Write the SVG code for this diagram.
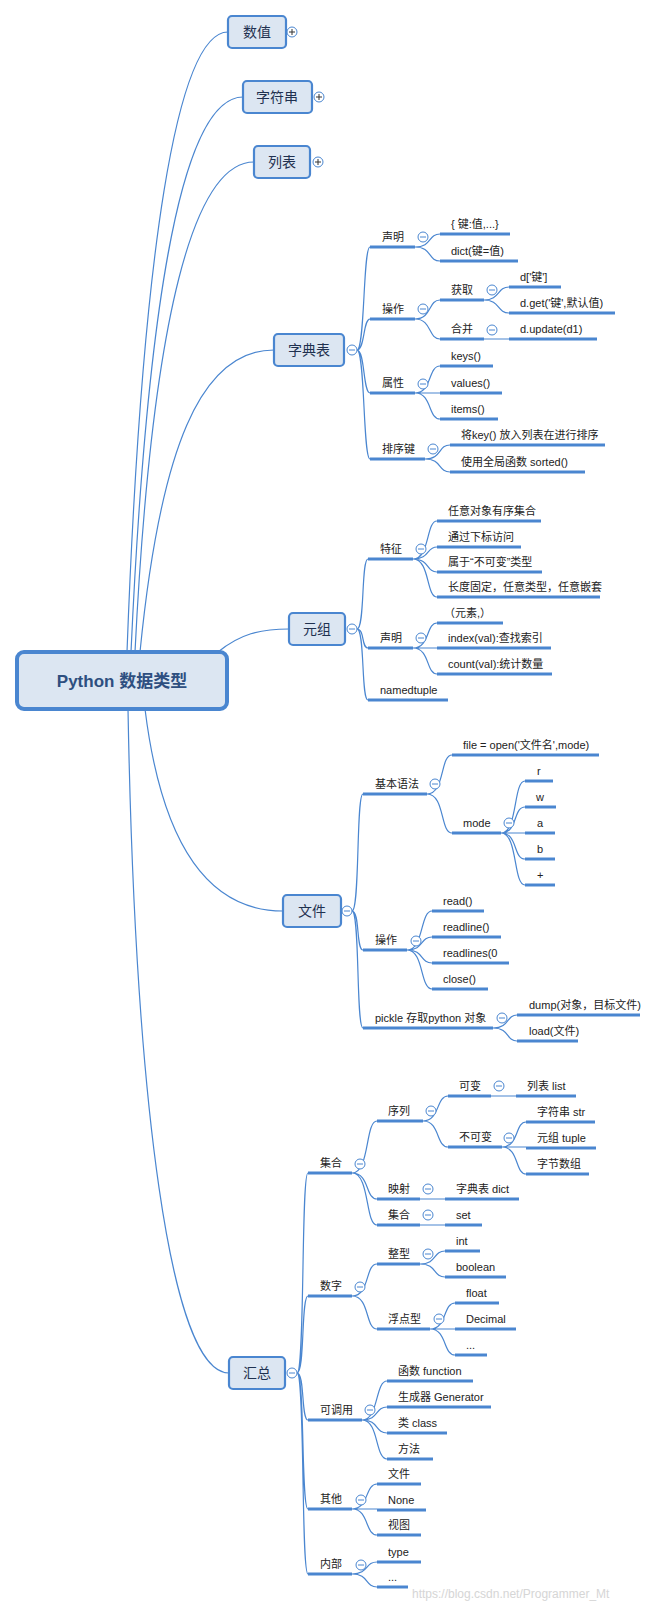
<svg xmlns="http://www.w3.org/2000/svg" width="665" height="1604" viewBox="0 0 665 1604">
<style>
.c{fill:none;stroke:#4a86d0;stroke-width:1.2}
.u{stroke:#4a86d0;stroke-width:3}
.t{font-family:"Liberation Sans","Noto Sans CJK SC",sans-serif;font-size:11px;fill:#222}
.n{font-family:"Liberation Sans","Noto Sans CJK SC",sans-serif;font-size:14px;fill:#1f3150;text-anchor:middle}
.box{fill:#dce6f2;stroke:#4a86d0;stroke-width:2.2}
.bt{fill:#fff;stroke:#4a86d0;stroke-width:1}
</style>
<defs>
<g id="mn"><circle class="bt" r="5"/><path d="M-3,0H3" stroke="#4a86d0" stroke-width="1"/></g>
<g id="pl"><circle class="bt" r="5" stroke="#333"/><path d="M-3,0H3M0,-3V3" stroke="#333" stroke-width="1"/></g>
</defs>
<rect width="665" height="1604" fill="#fff"/>
<g id="connectors">
<path class="c" d="M127,652 C142,249 177,32 228,32"/>
<path class="c" d="M131,652 C148,280 185,97 243,97"/>
<path class="c" d="M135,652 C152,310 195,162 254,162"/>
<path class="c" d="M140,652 C160,450 200,350 274,350"/>
<path class="c" d="M218,652 C240,634 260,629 289,629"/>
<path class="c" d="M145,709 C160,830 200,911 283,911"/>
<path class="c" d="M128,709 C135,1100 170,1373 229,1373"/>
<path class="c" d="M357,350 C365,350 363,247 370,247 M357,350 C365,350 363,319 370,319 M357,350 C365,350 363,393 370,393 M357,350 C365,350 363,459 370,459"/>
<path class="c" d="M415,247 C432,247 428,234 440,234 M415,247 C432,247 428,261 440,261"/>
<path class="c" d="M415,319 C432,319 428,300 440,300 M415,319 C432,319 428,339 440,339"/>
<path class="c" d="M484,300 C500,300 497,287 509,287 M484,300 C500,300 497,313 509,313 M484,339 H509"/>
<path class="c" d="M415,393 C432,393 428,366 440,366 M415,393 H440 M415,393 C432,393 428,419 440,419"/>
<path class="c" d="M425,459 C442,459 438,445 450,445 M425,459 C442,459 438,472 450,472"/>
<path class="c" d="M357,629 C365,629 361,559 368,559 M357,629 C365,629 361,648 368,648 M357,629 C365,629 361,700 368,700"/>
<path class="c" d="M413,559 C430,559 426,521 437,521 M413,559 C430,559 426,547 437,547 M413,559 C430,559 426,572 437,572 M413,559 C430,559 426,597 437,597"/>
<path class="c" d="M413,648 C430,648 426,623 437,623 M413,648 H437 M413,648 C430,648 426,674 437,674"/>
<path class="c" d="M352,911 C360,911 356,794 363,794 M352,911 C360,911 356,950 363,950 M352,911 C360,911 356,1028 363,1028"/>
<path class="c" d="M427,794 C445,794 440,755 452,755 M427,794 C445,794 440,833 452,833"/>
<path class="c" d="M501,833 C518,833 513,781 525,781 M501,833 C518,833 513,807 525,807 M501,833 H525 M501,833 C518,833 513,859 525,859 M501,833 C518,833 513,885 525,885"/>
<path class="c" d="M407,950 C424,950 420,911 432,911 M407,950 C424,950 420,937 432,937 M407,950 C424,950 420,963 432,963 M407,950 C424,950 420,989 432,989"/>
<path class="c" d="M493,1028 C510,1028 506,1015 517,1015 M493,1028 C510,1028 506,1041 517,1041"/>
<path class="c" d="M297,1373 C305,1373 301,1173 308,1173 M297,1373 C305,1373 301,1296 308,1296 M297,1373 C305,1373 301,1420 308,1420 M297,1373 C305,1373 301,1509 308,1509 M297,1373 C305,1373 301,1574 308,1574"/>
<path class="c" d="M352,1173 C370,1173 365,1121 377,1121 M352,1173 C370,1173 365,1199 377,1199 M352,1173 C370,1173 365,1225 377,1225"/>
<path class="c" d="M423,1121 C440,1121 436,1096 448,1096 M423,1121 C440,1121 436,1147 448,1147"/>
<path class="c" d="M491,1096 H516 M420,1199 H445 M420,1225 H445"/>
<path class="c" d="M502,1147 C519,1147 515,1122 526,1122 M502,1147 H526 M502,1147 C519,1147 515,1174 526,1174"/>
<path class="c" d="M352,1296 C370,1296 365,1264 377,1264 M352,1296 C370,1296 365,1329 377,1329"/>
<path class="c" d="M420,1264 C437,1264 433,1251 445,1251 M420,1264 C437,1264 433,1277 445,1277"/>
<path class="c" d="M430,1329 C447,1329 443,1303 455,1303 M430,1329 H455 M430,1329 C447,1329 443,1355 455,1355"/>
<path class="c" d="M362,1420 C379,1420 375,1381 387,1381 M362,1420 C379,1420 375,1407 387,1407 M362,1420 C379,1420 375,1433 387,1433 M362,1420 C379,1420 375,1459 387,1459"/>
<path class="c" d="M352,1509 C369,1509 365,1484 377,1484 M352,1509 H377 M352,1509 C369,1509 365,1535 377,1535"/>
<path class="c" d="M352,1574 C369,1574 365,1562 377,1562 M352,1574 C369,1574 365,1587 377,1587"/>
</g>
<g id="root"><rect x="17" y="652" width="210" height="57" rx="7" fill="#dce6f2" stroke="#4a86d0" stroke-width="4"/><text x="122" y="687" font-family="Liberation Sans,'Noto Sans CJK SC',sans-serif" font-size="17" font-weight="bold" fill="#2e4f80" text-anchor="middle">Python 数据类型</text></g>
<g id="n-shuzhi"><rect class="box" x="228" y="16" width="58" height="32" rx="4"/><text class="n" x="257" y="37">数值</text><use href="#pl" x="292" y="32"/></g>
<g id="n-zifuchuan"><rect class="box" x="243" y="81" width="69" height="32" rx="4"/><text class="n" x="277" y="102">字符串</text><use href="#pl" x="319" y="97"/></g>
<g id="n-liebiao"><rect class="box" x="254" y="146" width="56" height="32" rx="4"/><text class="n" x="282" y="167">列表</text><use href="#pl" x="318" y="162"/></g>
<g id="n-dict"><rect class="box" x="274" y="334" width="70" height="32" rx="4"/><text class="n" x="309" y="355">字典表</text><use href="#mn" x="352" y="350"/></g>
<g id="n-tuple"><rect class="box" x="289" y="613" width="56" height="32" rx="4"/><text class="n" x="317" y="634">元组</text><use href="#mn" x="352" y="629"/></g>
<g id="n-file"><rect class="box" x="283" y="895" width="58" height="32" rx="4"/><text class="n" x="312" y="916">文件</text><use href="#mn" x="347" y="911"/></g>
<g id="n-sum"><rect class="box" x="229" y="1357" width="56" height="32" rx="4"/><text class="n" x="257" y="1378">汇总</text><use href="#mn" x="292" y="1373"/></g>
<g id="d1"><text class="t" x="382" y="241">声明</text><line class="u" x1="370" y1="247" x2="415" y2="247"/><use href="#mn" x="423" y="237"/></g>
<g id="d11"><text class="t" x="451" y="228">{ 键:值,...}</text><line class="u" x1="440" y1="234" x2="510" y2="234"/></g>
<g id="d12"><text class="t" x="451" y="255">dict(键=值)</text><line class="u" x1="440" y1="261" x2="518" y2="261"/></g>
<g id="d2"><text class="t" x="382" y="313">操作</text><line class="u" x1="370" y1="319" x2="415" y2="319"/><use href="#mn" x="423" y="309"/></g>
<g id="d21"><text class="t" x="451" y="294">获取</text><line class="u" x1="440" y1="300" x2="484" y2="300"/><use href="#mn" x="492" y="290"/></g>
<g id="d211"><text class="t" x="520" y="281">d['键']</text><line class="u" x1="509" y1="287" x2="561" y2="287"/></g>
<g id="d212"><text class="t" x="520" y="307">d.get('键',默认值)</text><line class="u" x1="509" y1="313" x2="615" y2="313"/></g>
<g id="d22"><text class="t" x="451" y="333">合并</text><line class="u" x1="440" y1="339" x2="484" y2="339"/><use href="#mn" x="492" y="330"/></g>
<g id="d221"><text class="t" x="520" y="333">d.update(d1)</text><line class="u" x1="509" y1="339" x2="597" y2="339"/></g>
<g id="d3"><text class="t" x="382" y="387">属性</text><line class="u" x1="370" y1="393" x2="415" y2="393"/><use href="#mn" x="423" y="384"/></g>
<g id="d31"><text class="t" x="451" y="360">keys()</text><line class="u" x1="440" y1="366" x2="493" y2="366"/></g>
<g id="d32"><text class="t" x="451" y="387">values()</text><line class="u" x1="440" y1="393" x2="502" y2="393"/></g>
<g id="d33"><text class="t" x="451" y="413">items()</text><line class="u" x1="440" y1="419" x2="498" y2="419"/></g>
<g id="d4"><text class="t" x="382" y="453">排序键</text><line class="u" x1="370" y1="459" x2="425" y2="459"/><use href="#mn" x="433" y="449"/></g>
<g id="d41"><text class="t" x="461" y="439">将key() 放入列表在进行排序</text><line class="u" x1="450" y1="445" x2="605" y2="445"/></g>
<g id="d42"><text class="t" x="461" y="466">使用全局函数 sorted()</text><line class="u" x1="450" y1="472" x2="585" y2="472"/></g>
<g id="t1"><text class="t" x="380" y="553">特征</text><line class="u" x1="368" y1="559" x2="413" y2="559"/><use href="#mn" x="421" y="549"/></g>
<g id="t11"><text class="t" x="448" y="515">任意对象有序集合</text><line class="u" x1="437" y1="521" x2="541" y2="521"/></g>
<g id="t12"><text class="t" x="448" y="541">通过下标访问</text><line class="u" x1="437" y1="547" x2="521" y2="547"/></g>
<g id="t13"><text class="t" x="448" y="566">属于“不可变”类型</text><line class="u" x1="437" y1="572" x2="542" y2="572"/></g>
<g id="t14"><text class="t" x="448" y="591">长度固定，任意类型，任意嵌套</text><line class="u" x1="437" y1="597" x2="600" y2="597"/></g>
<g id="t2"><text class="t" x="380" y="642">声明</text><line class="u" x1="368" y1="648" x2="413" y2="648"/><use href="#mn" x="421" y="638"/></g>
<g id="t21"><text class="t" x="444" y="617">（元素,）</text><line class="u" x1="437" y1="623" x2="503" y2="623"/></g>
<g id="t22"><text class="t" x="448" y="642">index(val):查找索引</text><line class="u" x1="437" y1="648" x2="551" y2="648"/></g>
<g id="t23"><text class="t" x="448" y="668">count(val):统计数量</text><line class="u" x1="437" y1="674" x2="552" y2="674"/></g>
<g id="t3"><text class="t" x="380" y="694">namedtuple</text><line class="u" x1="368" y1="700" x2="448" y2="700"/></g>
<g id="f1"><text class="t" x="375" y="788">基本语法</text><line class="u" x1="363" y1="794" x2="427" y2="794"/><use href="#mn" x="435" y="784"/></g>
<g id="f11"><text class="t" x="463" y="749">file = open('文件名',mode)</text><line class="u" x1="452" y1="755" x2="599" y2="755"/></g>
<g id="f12"><text class="t" x="463" y="827">mode</text><line class="u" x1="452" y1="833" x2="501" y2="833"/><use href="#mn" x="509" y="823"/></g>
<g id="f121"><text class="t" x="537" y="775">r</text><line class="u" x1="525" y1="781" x2="553" y2="781"/></g>
<g id="f122"><text class="t" x="536" y="801">w</text><line class="u" x1="525" y1="807" x2="556" y2="807"/></g>
<g id="f123"><text class="t" x="537" y="827">a</text><line class="u" x1="525" y1="833" x2="555" y2="833"/></g>
<g id="f124"><text class="t" x="537" y="853">b</text><line class="u" x1="525" y1="859" x2="555" y2="859"/></g>
<g id="f125"><text class="t" x="537" y="879">+</text><line class="u" x1="525" y1="885" x2="555" y2="885"/></g>
<g id="f2"><text class="t" x="375" y="944">操作</text><line class="u" x1="363" y1="950" x2="407" y2="950"/><use href="#mn" x="416" y="941"/></g>
<g id="f21"><text class="t" x="443" y="905">read()</text><line class="u" x1="432" y1="911" x2="484" y2="911"/></g>
<g id="f22"><text class="t" x="443" y="931">readline()</text><line class="u" x1="432" y1="937" x2="501" y2="937"/></g>
<g id="f23"><text class="t" x="443" y="957">readlines(0</text><line class="u" x1="432" y1="963" x2="509" y2="963"/></g>
<g id="f24"><text class="t" x="443" y="983">close()</text><line class="u" x1="432" y1="989" x2="488" y2="989"/></g>
<g id="f3"><text class="t" x="375" y="1022">pickle 存取python 对象</text><line class="u" x1="363" y1="1028" x2="493" y2="1028"/><use href="#mn" x="502" y="1018"/></g>
<g id="f31"><text class="t" x="529" y="1009">dump(对象，目标文件)</text><line class="u" x1="517" y1="1015" x2="640" y2="1015"/></g>
<g id="f32"><text class="t" x="529" y="1035">load(文件)</text><line class="u" x1="517" y1="1041" x2="578" y2="1041"/></g>
<g id="s1"><text class="t" x="320" y="1167">集合</text><line class="u" x1="308" y1="1173" x2="352" y2="1173"/><use href="#mn" x="360" y="1164"/></g>
<g id="s11"><text class="t" x="388" y="1115">序列</text><line class="u" x1="377" y1="1121" x2="423" y2="1121"/><use href="#mn" x="431" y="1111"/></g>
<g id="s111"><text class="t" x="459" y="1090">可变</text><line class="u" x1="448" y1="1096" x2="491" y2="1096"/><use href="#mn" x="499" y="1086"/></g>
<g id="s1111"><text class="t" x="527" y="1090">列表 list</text><line class="u" x1="516" y1="1096" x2="576" y2="1096"/></g>
<g id="s112"><text class="t" x="459" y="1141">不可变</text><line class="u" x1="448" y1="1147" x2="502" y2="1147"/><use href="#mn" x="509" y="1138"/></g>
<g id="s1121"><text class="t" x="537" y="1116">字符串 str</text><line class="u" x1="526" y1="1122" x2="595" y2="1122"/></g>
<g id="s1122"><text class="t" x="537" y="1142">元组 tuple</text><line class="u" x1="526" y1="1148" x2="596" y2="1148"/></g>
<g id="s1123"><text class="t" x="537" y="1168">字节数组</text><line class="u" x1="526" y1="1174" x2="589" y2="1174"/></g>
<g id="s12"><text class="t" x="388" y="1193">映射</text><line class="u" x1="377" y1="1199" x2="420" y2="1199"/><use href="#mn" x="428" y="1189"/></g>
<g id="s121"><text class="t" x="456" y="1193">字典表 dict</text><line class="u" x1="445" y1="1199" x2="519" y2="1199"/></g>
<g id="s13"><text class="t" x="388" y="1219">集合</text><line class="u" x1="377" y1="1225" x2="420" y2="1225"/><use href="#mn" x="428" y="1215"/></g>
<g id="s131"><text class="t" x="456" y="1219">set</text><line class="u" x1="445" y1="1225" x2="482" y2="1225"/></g>
<g id="s2"><text class="t" x="320" y="1290">数字</text><line class="u" x1="308" y1="1296" x2="352" y2="1296"/><use href="#mn" x="360" y="1287"/></g>
<g id="s21"><text class="t" x="388" y="1258">整型</text><line class="u" x1="377" y1="1264" x2="420" y2="1264"/><use href="#mn" x="428" y="1254"/></g>
<g id="s211"><text class="t" x="456" y="1245">int</text><line class="u" x1="445" y1="1251" x2="480" y2="1251"/></g>
<g id="s212"><text class="t" x="456" y="1271">boolean</text><line class="u" x1="445" y1="1277" x2="506" y2="1277"/></g>
<g id="s22"><text class="t" x="388" y="1323">浮点型</text><line class="u" x1="377" y1="1329" x2="430" y2="1329"/><use href="#mn" x="439" y="1319"/></g>
<g id="s221"><text class="t" x="466" y="1297">float</text><line class="u" x1="455" y1="1303" x2="499" y2="1303"/></g>
<g id="s222"><text class="t" x="466" y="1323">Decimal</text><line class="u" x1="455" y1="1329" x2="516" y2="1329"/></g>
<g id="s223"><text class="t" x="466" y="1349">...</text><line class="u" x1="455" y1="1355" x2="487" y2="1355"/></g>
<g id="s3"><text class="t" x="320" y="1414">可调用</text><line class="u" x1="308" y1="1420" x2="362" y2="1420"/><use href="#mn" x="370" y="1410"/></g>
<g id="s31"><text class="t" x="398" y="1375">函数 function</text><line class="u" x1="387" y1="1381" x2="473" y2="1381"/></g>
<g id="s32"><text class="t" x="398" y="1401">生成器 Generator</text><line class="u" x1="387" y1="1407" x2="491" y2="1407"/></g>
<g id="s33"><text class="t" x="398" y="1427">类 class</text><line class="u" x1="387" y1="1433" x2="447" y2="1433"/></g>
<g id="s34"><text class="t" x="398" y="1453">方法</text><line class="u" x1="387" y1="1459" x2="433" y2="1459"/></g>
<g id="s4"><text class="t" x="320" y="1503">其他</text><line class="u" x1="308" y1="1509" x2="352" y2="1509"/><use href="#mn" x="361" y="1500"/></g>
<g id="s41"><text class="t" x="388" y="1478">文件</text><line class="u" x1="377" y1="1484" x2="421" y2="1484"/></g>
<g id="s42"><text class="t" x="388" y="1504">None</text><line class="u" x1="377" y1="1510" x2="426" y2="1510"/></g>
<g id="s43"><text class="t" x="388" y="1529">视图</text><line class="u" x1="377" y1="1535" x2="421" y2="1535"/></g>
<g id="s5"><text class="t" x="320" y="1568">内部</text><line class="u" x1="308" y1="1574" x2="352" y2="1574"/><use href="#mn" x="361" y="1565"/></g>
<g id="s51"><text class="t" x="388" y="1556">type</text><line class="u" x1="377" y1="1562" x2="421" y2="1562"/></g>
<g id="s52"><text class="t" x="388" y="1581">...</text><line class="u" x1="377" y1="1587" x2="408" y2="1587"/></g>
<text x="412" y="1598" font-family="Liberation Sans,sans-serif" font-size="12" fill="#ccc" opacity="0.8">https://blog.csdn.net/Programmer_Mt</text>
</svg>
